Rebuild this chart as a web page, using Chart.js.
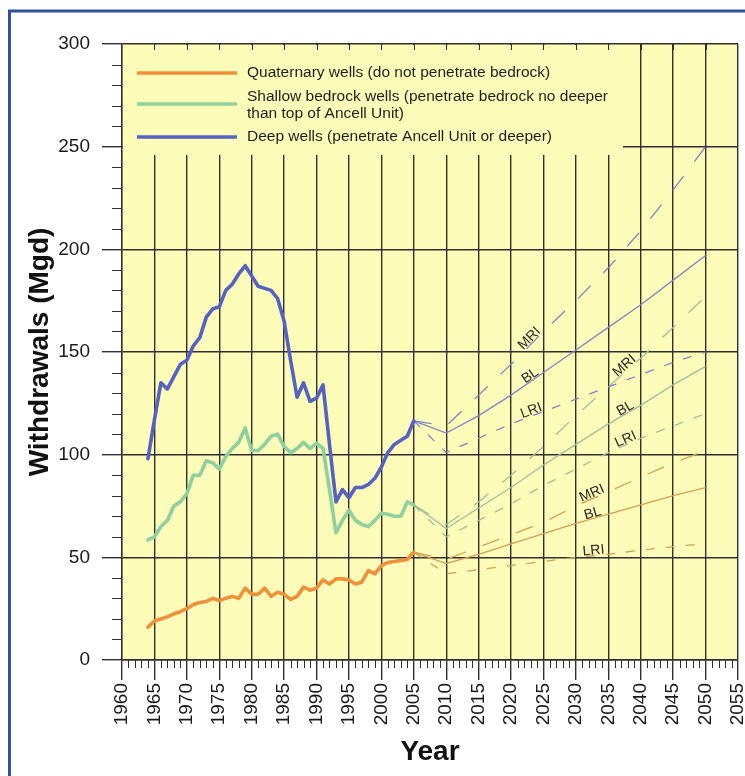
<!DOCTYPE html>
<html>
<head>
<meta charset="utf-8">
<script src="https://cdn.jsdelivr.net/npm/chart.js@4.4.1/dist/chart.umd.min.js"></script>
<style>
  html, body { margin: 0; padding: 0; background: #ffffff; }
  canvas { display: block; }
</style>
</head>
<body>
<canvas id="withdrawals" width="745" height="776"></canvas>
<script>
// ---- Reported withdrawals, 1964-2005 (million gallons per day) ----
const histYears = [1964, 1965, 1966, 1967, 1968, 1969, 1970, 1971, 1972, 1973,
  1974, 1975, 1976, 1977, 1978, 1979, 1980, 1981, 1982, 1983,
  1984, 1985, 1986, 1987, 1988, 1989, 1990, 1991, 1992, 1993,
  1994, 1995, 1996, 1997, 1998, 1999, 2000, 2001, 2002, 2003,
  2004, 2005];

const quaternaryWells = [16, 19, 20, 21, 22.5, 23.5, 25, 27, 28, 28.5,
  30, 29, 30, 31, 30, 35, 32, 32, 35, 31,
  33, 32, 29.5, 31, 35.5, 34, 35, 39, 37, 39.5,
  39.5, 39, 37, 38, 43.5, 42, 46, 47.5, 48, 48.5,
  49, 52.5];

const shallowBedrockWells = [58.5, 60, 65, 68, 75, 77, 81, 90, 90, 97,
  96, 93, 99, 103, 106, 113, 102, 102, 105, 109,
  110, 104, 101, 103, 106, 103, 105.5, 103, 83, 62,
  68, 73, 68, 66, 65, 68, 71.5, 71, 70, 70,
  77, 75.5];

const deepWells = [98, 117, 135, 132, 138, 144, 146, 153, 157, 167,
  171, 172, 180, 183, 188, 192, 187, 182, 181, 180,
  176, 165, 146, 128, 135, 126, 127.5, 134, 105, 77,
  83, 79, 84, 84, 85.5, 88.5, 94, 101, 105, 107,
  109, 116.5];

// ---- Projected withdrawals, 2005-2050 (BL baseline, MRI / LRI scenarios) ----
const projYears = [2005, 2010, 2015, 2020, 2025, 2030, 2035, 2040, 2045, 2050];

const deepBL  = [116.5, 110.5, 119, 129, 140, 151, 162, 173, 185, 197];
const deepMRI = [116.5, 114, 129, 144, 160, 175, 191, 209, 229, 250];
const deepLRI = [116.5, 101, 108, 115, 121, 127, 133, 139, 145, 150];

const shallowBL  = [75.5, 64, 74, 84, 95, 105, 115, 124, 134, 143];
const shallowMRI = [75.5, 66, 77, 90, 104, 119, 133, 147, 162, 177];
const shallowLRI = [75.5, 60, 68, 76, 85, 93, 101, 108, 114, 120];

const quaternaryBL  = [52.5, 47, 51.5, 56.5, 61.5, 66.5, 71, 75.5, 80, 84];
const quaternaryMRI = [52.5, 49, 55, 61, 67, 75, 82, 89, 96, 102];
const quaternaryLRI = [52.5, 42, 44, 46, 48, 50, 51.5, 53.5, 55.2, 56.7];

// ---- Axis ticks ----
const yearTicks = [1960, 1965, 1970, 1975, 1980, 1985, 1990, 1995, 2000, 2005,
  2010, 2015, 2020, 2025, 2030, 2035, 2040, 2045, 2050, 2055];
const withdrawalTicks = [0, 50, 100, 150, 200, 250, 300];

// ---- Legend text ----
const legendEntries = [
  ['Quaternary wells (do not penetrate bedrock)'],
  ['Shallow bedrock wells (penetrate bedrock no deeper', 'than top of Ancell Unit)'],
  ['Deep wells (penetrate Ancell Unit or deeper)']
];

// ---- Styling ----
const FONT = "'Liberation Sans', Arial, Helvetica, sans-serif";
const PLOT_BG = '#fdfcb8';
const GRID = '#303030';
const COLORS = { quaternary: '#f0913a', shallow: '#8fd09e', deep: '#5562c4' };
const PROJ_COLORS = { quaternary: '#d6a052', shallow: '#9fbf9f', deep: '#7f86c4' };
const SCENARIO_DASH = { BL: [], MRI: [18, 18], LRI: [9, 11] };
// year along each aquifer's projection where the scenario names sit
const LABEL_YEAR = { deep: 2023.4, shallow: 2038, quaternary: 2032.8 };

const pts = (xs, ys) => xs.map((x, i) => ({ x: x, y: ys[i] }));

const historical = [
  { key: 'quaternary', values: quaternaryWells },
  { key: 'shallow', values: shallowBedrockWells },
  { key: 'deep', values: deepWells }
];

const projections = [
  { key: 'deep', scenario: 'MRI', values: deepMRI },
  { key: 'deep', scenario: 'BL', values: deepBL },
  { key: 'deep', scenario: 'LRI', values: deepLRI },
  { key: 'shallow', scenario: 'MRI', values: shallowMRI },
  { key: 'shallow', scenario: 'BL', values: shallowBL },
  { key: 'shallow', scenario: 'LRI', values: shallowLRI },
  { key: 'quaternary', scenario: 'MRI', values: quaternaryMRI },
  { key: 'quaternary', scenario: 'BL', values: quaternaryBL },
  { key: 'quaternary', scenario: 'LRI', values: quaternaryLRI }
];

// Historical series first so they paint over the thin projection lines
const datasets = historical.map(h => ({
  label: h.key,
  data: pts(histYears, h.values),
  borderColor: COLORS[h.key],
  borderWidth: 3.6,
  borderJoinStyle: 'round',
  borderCapStyle: 'round',
  pointRadius: 0,
  fill: false
})).concat(projections.map(p => ({
  label: p.key + ' ' + p.scenario,
  data: pts(projYears, p.values),
  borderColor: PROJ_COLORS[p.key],
  borderWidth: 1.3,
  borderDash: SCENARIO_DASH[p.scenario],
  pointRadius: 0,
  fill: false,
  scenario: p.scenario,
  aquifer: p.key
})));

// White page, blue frame (top and left edges) and pale-yellow plotting field
const frameAndBackground = {
  id: 'frameAndBackground',
  beforeDraw(chart) {
    const { ctx, chartArea: a } = chart;
    ctx.save();
    ctx.fillStyle = '#ffffff';
    ctx.fillRect(0, 0, chart.width, chart.height);
    ctx.strokeStyle = '#2f5597';
    ctx.lineWidth = 3;
    ctx.beginPath();
    ctx.moveTo(9.5, chart.height + 5);
    ctx.lineTo(9.5, 11);
    ctx.lineTo(chart.width + 5, 11);
    ctx.stroke();
    ctx.fillStyle = PLOT_BG;
    ctx.fillRect(a.left, a.top, a.right - a.left, a.bottom - a.top);
    ctx.restore();
  }
};

// Legend panel in the upper-left of the plot, masking the grid behind it
const legendPanel = {
  id: 'legendPanel',
  beforeDatasetsDraw(chart) {
    const { ctx, chartArea: a } = chart;
    ctx.save();
    ctx.fillStyle = PLOT_BG;
    ctx.fillRect(a.left + 1, a.top + 1, 500, 110);

    const keys = ['quaternary', 'shallow', 'deep'];
    const lineY = [a.top + 29, a.top + 60, a.top + 93];
    const textY = [[a.top + 29], [a.top + 53, a.top + 70], [a.top + 93]];
    ctx.font = '15.5px ' + FONT;
    ctx.textBaseline = 'middle';
    ctx.textAlign = 'left';
    keys.forEach((k, i) => {
      ctx.strokeStyle = COLORS[k];
      ctx.lineWidth = 3.4;
      ctx.beginPath();
      ctx.moveTo(a.left + 15, lineY[i]);
      ctx.lineTo(a.left + 115, lineY[i]);
      ctx.stroke();
      ctx.fillStyle = '#1e1e1e';
      legendEntries[i].forEach((t, j) => ctx.fillText(t, a.left + 125, textY[i][j]));
    });
    ctx.restore();
  }
};

// Scenario names written along each projection line
function valueAt(xs, ys, yr) {
  for (let i = 0; i < xs.length - 1; i++) {
    if (yr >= xs[i] && yr <= xs[i + 1]) {
      const t = (yr - xs[i]) / (xs[i + 1] - xs[i]);
      return ys[i] + t * (ys[i + 1] - ys[i]);
    }
  }
  return ys[ys.length - 1];
}

const scenarioLabels = {
  id: 'scenarioLabels',
  afterDatasetsDraw(chart) {
    const { ctx, scales: { x, y } } = chart;
    ctx.save();
    ctx.font = '14px ' + FONT;
    ctx.fillStyle = '#262626';
    ctx.textAlign = 'center';
    ctx.textBaseline = 'middle';
    chart.data.datasets.forEach(ds => {
      if (!ds.scenario) return;
      const xs = ds.data.map(d => d.x);
      const ys = ds.data.map(d => d.y);
      const yr = LABEL_YEAR[ds.aquifer];
      const x0 = x.getPixelForValue(yr - 1), y0 = y.getPixelForValue(valueAt(xs, ys, yr - 1));
      const x1 = x.getPixelForValue(yr + 1), y1 = y.getPixelForValue(valueAt(xs, ys, yr + 1));
      const theta = Math.atan2(y0 - y1, x1 - x0);
      const px = x.getPixelForValue(yr), py = y.getPixelForValue(valueAt(xs, ys, yr));
      const d = 5;
      const cx = px - d * Math.sin(theta), cy = py - d * Math.cos(theta);
      ctx.save();
      ctx.translate(cx, cy);
      ctx.rotate(-theta);
      ctx.fillText(ds.scenario, 0, 0);
      ctx.restore();
    });
    ctx.restore();
  }
};

// Yearly minor ticks, 10-Mgd minor ticks and inner ticks on the top edge
const minorTicks = {
  id: 'minorTicks',
  afterDraw(chart) {
    const { ctx, chartArea: a, scales: { x, y } } = chart;
    ctx.save();
    ctx.strokeStyle = GRID;
    ctx.lineWidth = 1;
    ctx.beginPath();
    for (let yr = 1960; yr <= 2055; yr++) {
      if (yr % 5 === 0) continue;
      const px = Math.round(x.getPixelForValue(yr)) + 0.5;
      ctx.moveTo(px, a.bottom);
      ctx.lineTo(px, a.bottom + 8);
    }
    for (let v = 0; v <= 300; v += 10) {
      if (v % 50 === 0) continue;
      const py = Math.round(y.getPixelForValue(v)) + 0.5;
      ctx.moveTo(a.left - 10, py);
      ctx.lineTo(a.left, py);
    }
    yearTicks.slice(1, -1).forEach(yr => {
      const px = Math.round(x.getPixelForValue(yr)) + 0.5;
      ctx.moveTo(px, a.top);
      ctx.lineTo(px, a.top + 6);
    });
    ctx.stroke();
    ctx.restore();
  }
};

new Chart(document.getElementById('withdrawals'), {
  type: 'line',
  data: { datasets: datasets },
  options: {
    responsive: false,
    animation: false,
    devicePixelRatio: 1,
    events: [],
    layout: { autoPadding: false, padding: { left: 0, top: 44, right: 7, bottom: 0 } },
    plugins: { legend: { display: false }, tooltip: { enabled: false } },
    elements: { line: { tension: 0 }, point: { radius: 0 } },
    scales: {
      x: {
        type: 'linear',
        min: 1960,
        max: 2055,
        afterBuildTicks: s => { s.ticks = yearTicks.map(v => ({ value: v })); },
        afterFit: s => { s.height = 116; s.paddingLeft = 0; s.paddingRight = 0; },
        ticks: {
          minRotation: 90,
          maxRotation: 90,
          padding: 3,
          color: '#1a1a1a',
          font: { family: FONT, size: 19 },
          callback: v => String(v)
        },
        grid: { color: GRID, lineWidth: 1.4, tickLength: 20, tickColor: GRID },
        border: { display: true, color: GRID, width: 1.4 },
        title: {
          display: true,
          text: 'Year',
          color: '#111',
          font: { family: FONT, size: 28, weight: 'bold' },
          padding: { top: 0, bottom: 7 }
        }
      },
      y: {
        type: 'linear',
        min: 0,
        max: 300,
        afterBuildTicks: s => { s.ticks = withdrawalTicks.map(v => ({ value: v })); },
        afterFit: s => { s.width = 122; s.paddingTop = 0; s.paddingBottom = 0; },
        ticks: {
          padding: 12,
          color: '#1a1a1a',
          font: { family: FONT, size: 19 },
          callback: v => String(v)
        },
        grid: { color: GRID, lineWidth: 1.4, tickLength: 20, tickColor: GRID },
        border: { display: true, color: GRID, width: 1.4 },
        title: {
          display: true,
          text: 'Withdrawals (Mgd)',
          color: '#111',
          font: { family: FONT, size: 28, weight: 'bold' },
          padding: { top: 23, bottom: 0 }
        }
      }
    }
  },
  plugins: [frameAndBackground, legendPanel, scenarioLabels, minorTicks]
});
</script>
</body>
</html>
